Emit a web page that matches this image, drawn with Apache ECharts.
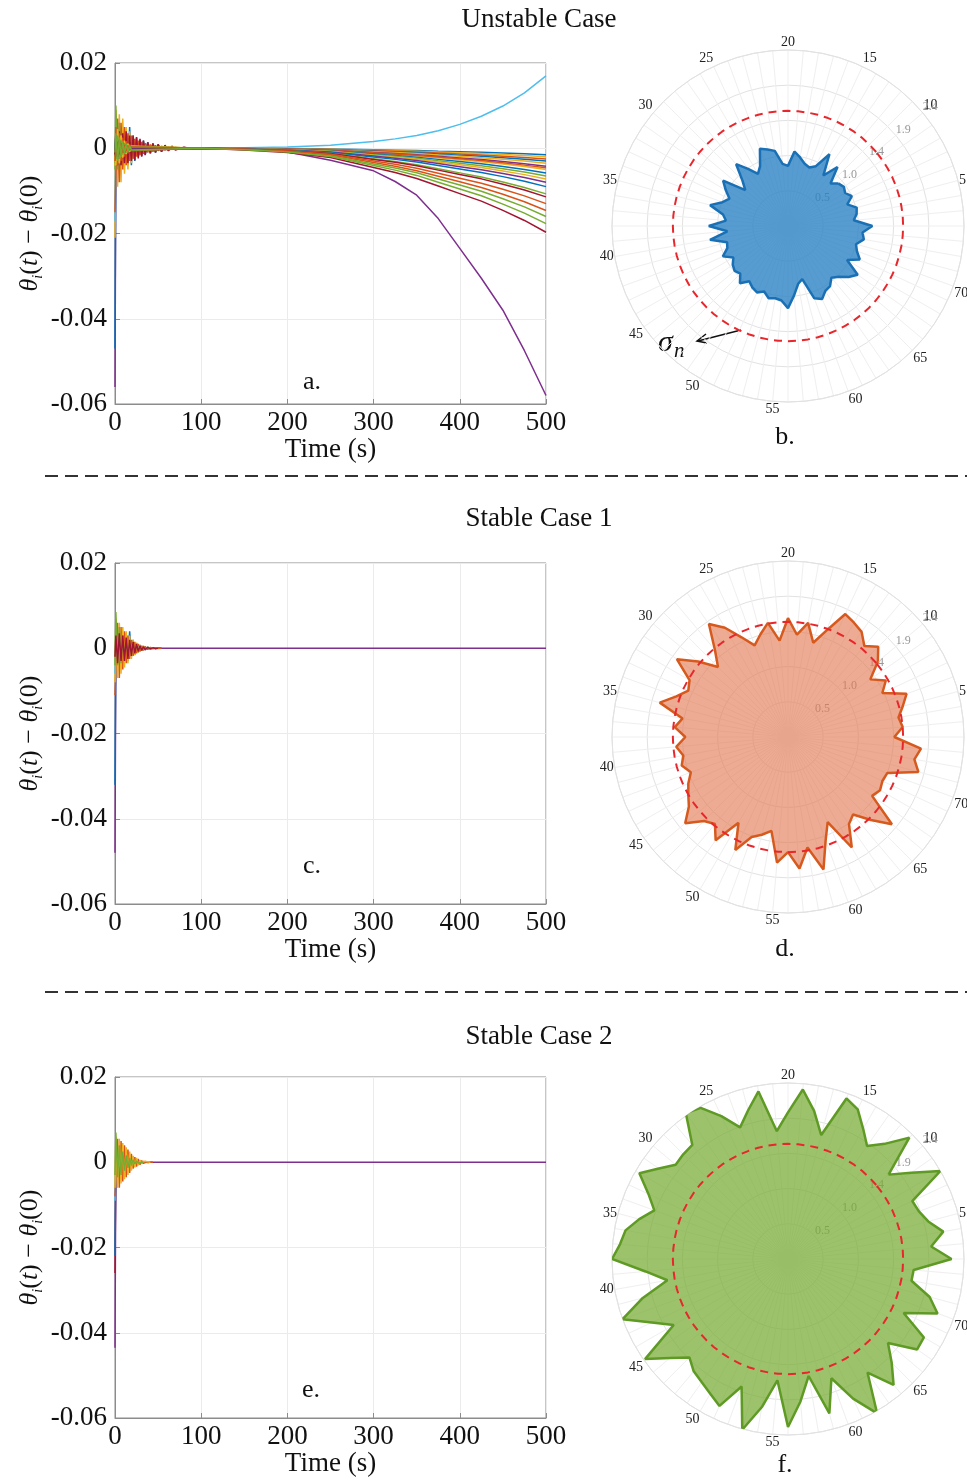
<!DOCTYPE html>
<html>
<head>
<meta charset="utf-8">
<script src="https://cdn.jsdelivr.net/npm/echarts/dist/echarts.min.js"></script>
<style>
  html, body { margin: 0; padding: 0; background: #fff; }
  #main { width: 967px; height: 1480px; }
</style>
</head>
<body>
<div id="main"></div>
<script>
  // ---- time samples (s) ----
  const timeEarly = [0, 1, 3, 5, 7, 9, 11, 13, 15, 17, 19, 21, 23, 25, 27, 29, 31, 33, 35, 38, 41, 44, 47, 50, 54, 58, 62, 66, 70, 80, 90, 100]
  const timeLate = [150, 200, 250, 300, 325, 350, 375, 400, 425, 450, 475, 500]
  const settleT = 100
  const endT = 500

  // ---- panel a (unstable), values x1e-3 ----
  const colorsA = ['#7E2F8E', '#0072BD', '#EDB120', '#4DBEEE', '#D95319', '#77AC30', '#A2142F']
  const earlyA = [
    [-56, 1, -1.5, 2, -2, 1.5, -1.5, 1.5, -1, 1, -1, 0.8, -0.8, 0.6, -0.6, 0.5, -0.5, 0.4, -0.3, 0.3, -0.2, 0.2, -0.15, 0.1, -0.1, 0.05, 0, 0, 0, 0, 0, 0],
    [-47, 2, -3, 3, -2, 3, -3, 4, -4, 5, -4, 3, -3, 2.5, -2, 2, -1.8, 1.8, -1.5, 1.4, -1.2, 1.1, -1, 0.9, -0.8, 0.6, -0.5, 0.4, -0.3, 0.2, -0.1, 0],
    [-21, 9, -9, 8, -8, 7, -6, 5, -5, 4, -3.5, 3, -2.5, 2, -2, 1.6, -1.4, 1.2, -1, 0.9, -0.8, 0.7, -0.6, 0.5, -0.4, 0.3, -0.25, 0.2, -0.1, 0.05, 0, 0],
    [-17, 1, -2, 2, -1.5, 1.5, -1.2, 1, -1, 0.8, -0.8, 0.6, -0.5, 0.5, -0.4, 0.3, -0.3, 0.2, -0.2, 0.15, -0.1, 0.1, 0, 0, 0, 0, 0, 0, 0, 0, 0, 0],
    [-15, -6, 7, -8, 6, -5, 5, -4, 3.5, -3, 3, -2.5, 2.2, -2, 1.8, -1.6, 1.5, -1.3, 1.2, -1, 0.9, -0.8, 0.7, -0.6, 0.5, -0.4, 0.3, -0.25, 0.2, -0.1, 0.05, 0],
    [-5, 10, -5, 6, -4, 3, -3, 2.5, -2, 2, -1.5, 1.2, -1, 0.8, -0.7, 0.6, -0.5, 0.4, -0.3, 0.25, -0.2, 0.15, -0.1, 0.1, 0, 0, 0, 0, 0, 0, 0, 0],
    [-3, 3, -4, 4, -4, 3.5, -3.5, 4, -3.5, 3, -3, 3, -2.8, 2.6, -2.4, 2.2, -2, 1.8, -1.6, 1.4, -1.2, 1.1, -1, 0.9, -0.8, 0.7, -0.6, 0.5, -0.4, 0.25, -0.1, 0]
  ]
  const lateA = [
    [-0.2, -0.9, -2.8, -5.3, -7.8, -11, -16.5, -23.5, -30.5, -38, -47.5, -58],
    [-0.03, -0.08, -0.17, -0.35, -0.44, -0.54, -0.68, -0.81, -0.95, -1.11, -1.29, -1.5],
    [-0.1, -0.25, -0.55, -1.15, -1.45, -1.8, -2.25, -2.7, -3.15, -3.7, -4.3, -5.0],
    [0.1, 0.3, 0.7, 1.6, 2.2, 3.0, 4.1, 5.6, 7.5, 9.9, 13, 17],
    [-0.29, -0.73, -1.6, -3.36, -4.23, -5.26, -6.57, -7.88, -9.2, -10.8, -12.56, -14.6],
    [-0.32, -0.8, -1.76, -3.68, -4.64, -5.76, -7.2, -8.64, -10.08, -11.84, -13.76, -16.0],
    [-0.39, -0.99, -2.17, -4.53, -5.71, -7.09, -8.87, -10.64, -12.41, -14.58, -16.94, -19.7]
  ]
  const fanColorsA = ['#EDB120', '#D95319', '#0072BD', '#EDB120', '#7E2F8E', '#D95319', '#0072BD', '#77AC30', '#EDB120', '#7E2F8E', '#0072BD', '#77AC30', '#A2142F', '#D95319', '#77AC30']
  const fanEarlyA = [
    [-3, 2, -2.5, 2, -2, 1.5, -1.2, 1, -0.8, 0.6, -0.4],
    [-1, -2, 3, -2.5, 2, -1.5, 1.2, -1, 0.8, -0.6, 0.4],
    [-2, 4, -3, 3, -2, 2, -1.5, 1.2, -1, 0.7, -0.5],
    [-4, -3, 4, -3.5, 3, -2, 1.5, -1.2, 1, -0.7, 0.4],
    [-1.5, 1.5, -2, 1.5, -1, 1, -0.8, 0.6, -0.5, 0.4, -0.3],
    [-2.5, 5, -4, 3.5, -3, 2.5, -2, 1.6, -1.2, 0.9, -0.6],
    [-1, -1.5, 2, -2, 1.5, -1, 0.8, -0.7, 0.6, -0.4, 0.3],
    [-3.5, 2.5, -3, 2.5, -2, 1.5, -1.2, 1, -0.8, 0.6, -0.4],
    [-2, -4, 4.5, -3.5, 3, -2.2, 1.8, -1.4, 1.1, -0.8, 0.5],
    [-1, 1, -1.5, 1.2, -1, 0.8, -0.6, 0.5, -0.4, 0.3, -0.2],
    [-0.5, 3, -2.5, 2, -1.8, 1.4, -1.1, 0.9, -0.7, 0.5, -0.3],
    [-2, -2.5, 3, -2.5, 2, -1.5, 1.2, -1, 0.8, -0.6, 0.4],
    [-1.5, 2, -2, 1.8, -1.5, 1.2, -1, 0.8, -0.6, 0.4, -0.3],
    [-3, -1, 1.5, -1.5, 1.2, -1, 0.8, -0.6, 0.5, -0.4, 0.3],
    [-1, 3.5, -3, 2.5, -2, 1.5, -1.2, 1, -0.8, 0.6, -0.4]
  ]
  const fanLateA = [
    [-0.04, -0.1, -0.22, -0.46, -0.58, -0.72, -0.9, -1.08, -1.26, -1.48, -1.72, -2.0],
    [-0.05, -0.13, -0.28, -0.58, -0.73, -0.9, -1.13, -1.35, -1.58, -1.85, -2.15, -2.5],
    [-0.06, -0.15, -0.33, -0.69, -0.87, -1.08, -1.35, -1.62, -1.89, -2.22, -2.58, -3.0],
    [-0.07, -0.18, -0.39, -0.8, -1.02, -1.26, -1.58, -1.89, -2.2, -2.59, -3.01, -3.5],
    [-0.08, -0.21, -0.46, -0.97, -1.22, -1.51, -1.89, -2.27, -2.65, -3.11, -3.61, -4.2],
    [-0.09, -0.23, -0.51, -1.06, -1.33, -1.66, -2.07, -2.48, -2.9, -3.4, -3.96, -4.6],
    [-0.12, -0.29, -0.64, -1.33, -1.68, -2.09, -2.61, -3.13, -3.65, -4.29, -4.99, -5.8],
    [-0.13, -0.33, -0.72, -1.5, -1.89, -2.34, -2.93, -3.51, -4.1, -4.81, -5.59, -6.5],
    [-0.14, -0.36, -0.79, -1.66, -2.09, -2.59, -3.24, -3.89, -4.54, -5.33, -6.19, -7.2],
    [-0.16, -0.4, -0.88, -1.84, -2.32, -2.88, -3.6, -4.32, -5.04, -5.92, -6.88, -8.0],
    [-0.18, -0.45, -0.99, -2.07, -2.61, -3.24, -4.05, -4.86, -5.67, -6.66, -7.74, -9.0],
    [-0.21, -0.54, -1.18, -2.46, -3.1, -3.85, -4.82, -5.78, -6.74, -7.92, -9.2, -10.7],
    [-0.23, -0.57, -1.25, -2.62, -3.31, -4.1, -5.13, -6.16, -7.18, -8.44, -9.8, -11.4],
    [-0.26, -0.65, -1.43, -2.99, -3.77, -4.68, -5.85, -7.02, -8.19, -9.62, -11.18, -13.0],
    [-0.35, -0.89, -1.95, -4.07, -5.13, -6.37, -7.97, -9.56, -11.15, -13.1, -15.22, -17.7]
  ]

  // ---- panel c (stable 1), values x1e-3 ----
  const colorsC = ['#7E2F8E', '#0072BD', '#D95319', '#EDB120', '#4DBEEE', '#77AC30', '#A2142F']
  const earlyC = [
    [-48, 1, -1.5, 1.5, -1.2, 1.2, -1, 1, -0.8, 0.8, -0.6, 0.5, -0.5, 0.4, -0.3, 0.3, -0.2, 0.15, -0.1, 0.1, -0.05, 0],
    [-32, 2, -2, 2.5, -2.5, 3, -3, 3.5, -3, 4, -2, 2, -1.5, 1.2, -1, 0.8, -0.6, 0.5, -0.4, 0.3, -0.2, 0.1, -0.1, 0.05, 0],
    [-11, -5, 6, -7, 5, -5, 4, -3.5, 3, -2.5, 2, -1.8, 1.5, -1.2, 1, -0.8, 0.6, -0.5, 0.4, -0.3, 0.2, -0.15, 0.1, -0.05, 0],
    [-8, 7, -7, 6, -6, 5, -4.5, 4, -3.5, 3, -2.5, 2, -1.6, 1.3, -1, 0.8, -0.6, 0.5, -0.35, 0.25, -0.2, 0.1, -0.05, 0],
    [-6, 1, -1.5, 1.5, -1.2, 1, -1, 0.8, -0.7, 0.6, -0.5, 0.4, -0.3, 0.25, -0.2, 0.15, -0.1, 0.05, 0],
    [-4, 8.5, -4, 5, -3.5, 3, -2.5, 2, -1.6, 1.3, -1, 0.8, -0.6, 0.5, -0.4, 0.3, -0.2, 0.15, -0.1, 0.05, 0],
    [-2, 3, -3.5, 3.5, -3, 3, -3, 2.5, -2.5, 2, -1.8, 1.5, -1.2, 1, -0.8, 0.6, -0.5, 0.4, -0.3, 0.2, -0.15, 0.1, -0.05, 0]
  ]

  // ---- panel e (stable 2), values x1e-3 ----
  const colorsE = ['#7E2F8E', '#A2142F', '#0072BD', '#4DBEEE', '#D95319', '#EDB120', '#77AC30']
  const earlyE = [
    [-43.5, 0.8, -1, 1, -1, 0.8, -0.8, 0.6, -0.5, 0.4, -0.3, 0.25, -0.2, 0.1, -0.05, 0],
    [-26, 2.5, -3, 3, -2.5, 2.5, -2, 2, -1.5, 1.2, -1, 0.8, -0.6, 0.4, -0.3, 0.2, -0.1, 0.05, 0],
    [-22, 1.5, -2, 2, -2, 2.5, -2, 2, -1.5, 1.2, -1, 0.8, -0.6, 0.5, -0.4, 0.3, -0.2, 0.1, -0.05, 0],
    [-9, 1, -1, 1, -0.8, 0.8, -0.6, 0.5, -0.4, 0.3, -0.2, 0.15, -0.1, 0.05, 0],
    [-8, -4, 5.5, -6, 5, -4.5, 4, -3.5, 3, -2.5, 2, -1.5, 1.2, -1, 0.8, -0.6, 0.4, -0.3, 0.2, -0.1, 0.05, 0],
    [-6, 6, -6, 5.5, -5, 4.5, -4, 3.5, -3, 2.5, -2, 1.5, -1.2, 1, -0.7, 0.5, -0.35, 0.25, -0.15, 0.1, 0],
    [-3, 7, -3.5, 4, -3, 2.5, -2, 1.6, -1.3, 1, -0.8, 0.6, -0.4, 0.3, -0.2, 0.1, -0.05, 0]
  ]

  // ---- polar panels: node 1..72 radius ----
  const polarB = [1.02, 1.15, 0.90, 0.95, 0.97, 0.86, 0.96, 0.90, 0.93, 0.90,
    0.82, 1.05, 0.84, 1.13, 0.90, 0.85, 0.88, 0.95, 1.02, 0.82,
    0.85, 1.04, 1.08, 1.12, 0.90, 0.82, 0.95, 1.10, 0.88, 0.76,
    1.08, 0.98, 0.88, 0.95, 1.10, 0.90, 0.85, 1.08, 0.83, 1.08,
    0.86, 0.88, 0.98, 0.86, 0.92, 0.95, 0.92, 1.02, 0.92, 0.97,
    1.00, 0.95, 1.02, 1.00, 1.02, 1.12, 0.95, 0.80, 0.75, 1.05,
    1.10, 1.02, 1.00, 0.92, 0.98, 1.08, 1.16, 0.93, 1.08, 1.00,
    0.96, 1.05]
  const polarD = [1.82, 1.45, 1.57, 1.53, 1.62, 1.72, 1.42, 1.54, 1.37, 1.60,
    1.74, 1.62, 1.75, 1.80, 1.85, 1.55, 1.33, 1.58, 1.40, 1.62,
    1.32, 1.58, 1.45, 1.33, 1.50, 1.72, 1.88, 1.55, 1.35, 1.60,
    1.85, 1.55, 1.50, 1.62, 1.81, 1.46, 1.55, 1.40, 1.53, 1.45,
    1.50, 1.41, 1.50, 1.57, 1.65, 1.83, 1.62, 1.55, 1.72, 1.35,
    1.70, 1.45, 1.38, 1.30, 1.72, 1.57, 1.80, 1.53, 1.87, 1.50,
    1.28, 1.74, 1.45, 1.38, 1.60, 1.85, 1.40, 1.45, 1.42, 1.44,
    1.84, 1.75]
  const polarF = [1.72, 2.23, 1.96, 2.15, 1.98, 1.90, 1.87, 2.40, 2.05, 1.79,
    2.34, 2.05, 1.88, 2.05, 2.25, 2.33, 1.75, 2.05, 2.32, 2.00,
    1.75, 2.32, 2.10, 1.91, 2.15, 2.38, 2.43, 2.03, 2.02, 2.00,
    2.15, 2.34, 2.10, 1.94, 2.10, 2.25, 2.30, 2.40, 1.95, 1.67,
    2.05, 2.40, 2.05, 1.80, 2.38, 2.10, 1.90, 2.00, 2.05, 2.12,
    2.21, 1.85, 2.41, 2.05, 1.66, 2.29, 1.95, 1.62, 2.18, 1.73,
    2.10, 2.43, 1.89, 2.24, 2.00, 1.78, 2.15, 2.14, 1.74, 2.17,
    2.00, 1.71]
  const sigmaN = 1.57
  const nodeCount = 72
  const firstNode = 10   // node sitting on the radial axis

  const serif = 'Liberation Serif'
  const gridTops = [63, 563, 1077]
  const polarCenters = [[788, 226], [788, 737], [788, 1259]]

  const toPts = (times, vals) => vals.map((v, i) => [times[i], v * 1e-3])

  function lineSeries(gi, color, data) {
    return {
      type: 'line', xAxisIndex: gi, yAxisIndex: gi, data: data,
      symbol: 'none', silent: true, clip: true,
      lineStyle: { width: 1.5, color: color }, itemStyle: { color: color }
    }
  }

  let series = []
  earlyA.forEach((row, j) => {
    series.push(lineSeries(0, colorsA[j], toPts(timeEarly, row).concat(toPts(timeLate, lateA[j]))))
  })
  fanEarlyA.forEach((row, j) => {
    const pts = toPts(timeEarly, row).concat([[settleT, 0]]).concat(toPts(timeLate, fanLateA[j]))
    series.push(lineSeries(0, fanColorsA[j], pts))
  })
  // stable panels: the purple node (drawn first) carries the settled line to the end
  earlyC.forEach((row, j) => {
    const pts = toPts(timeEarly, row)
    series.push(lineSeries(1, colorsC[j], j === 0 ? pts.concat([[endT, 0]]) : pts))
  })
  earlyE.forEach((row, j) => {
    const pts = toPts(timeEarly, row)
    series.push(lineSeries(2, colorsE[j], j === 0 ? pts.concat([[endT, 0]]) : pts))
  })

  // angle value v runs firstNode .. firstNode+nodeCount, closing the ring
  function ringData(vals) {
    const out = []
    for (let v = firstNode; v <= firstNode + nodeCount; v++) {
      const n = v > nodeCount ? v - nodeCount : v
      out.push([vals[n - 1], v])
    }
    return out
  }
  const sigmaRing = polarB.map(() => sigmaN)

  const polarStyles = [
    { vals: polarB, line: '#1a70b5', fill: 'rgba(38,128,196,0.78)' },
    { vals: polarD, line: '#d65a1e', fill: 'rgba(228,120,80,0.62)' },
    { vals: polarF, line: '#5e9a24', fill: 'rgba(118,170,50,0.72)' }
  ]
  polarStyles.forEach((p, i) => {
    series.push({
      type: 'line', coordinateSystem: 'polar', polarIndex: i, data: ringData(p.vals),
      symbol: 'none', silent: true, clip: false, z: 3,
      lineStyle: { color: p.line, width: 2.5 },
      areaStyle: { color: p.fill, opacity: 1 }
    })
    series.push({
      type: 'line', coordinateSystem: 'polar', polarIndex: i, data: ringData(sigmaRing),
      symbol: 'none', silent: true, clip: false, z: 4,
      lineStyle: { color: '#e8262b', width: 2, type: [8, 6] }
    })
  })

  const yName = '{t|θ}{s|i}{n|(}{t|t}{n|) − }{t|θ}{s|i}{n|(0)}'

  const option = {
    animation: false,
    backgroundColor: '#fff',
    title: [
      ['Unstable Case', 1], ['Stable Case 1', 500], ['Stable Case 2', 1018]
    ].map(([text, top]) => ({
      text: text, left: 534, top: top, textAlign: 'center',
      textStyle: { fontFamily: serif, fontSize: 27, fontWeight: 'normal', color: '#111' }
    })),
    grid: gridTops.map(top => ({
      left: 115, top: top, width: 431, height: 341,
      show: true, borderColor: '#8c8c8c', borderWidth: 1, backgroundColor: 'transparent'
    })),
    xAxis: gridTops.map((t, i) => ({
      gridIndex: i, type: 'value', min: 0, max: 500, interval: 100,
      name: 'Time (s)', nameLocation: 'middle', nameGap: 32,
      nameTextStyle: { fontFamily: serif, fontSize: 27, color: '#111' },
      axisLine: { show: true, onZero: false, lineStyle: { color: '#8c8c8c' } },
      axisTick: { inside: true, length: 5, lineStyle: { color: '#8c8c8c' } },
      axisLabel: { fontFamily: serif, fontSize: 27, color: '#111', margin: 5 },
      splitLine: { show: true, lineStyle: { color: '#ebebeb' } }
    })),
    yAxis: gridTops.map((t, i) => ({
      gridIndex: i, type: 'value', min: -0.06, max: 0.02, interval: 0.02,
      name: yName, nameLocation: 'middle', nameGap: 70, nameRotate: 90,
      nameTextStyle: {
        fontFamily: serif, fontSize: 26, color: '#111',
        rich: {
          t: { fontFamily: serif, fontSize: 26, fontStyle: 'italic', color: '#111', lineHeight: 30 },
          n: { fontFamily: serif, fontSize: 26, color: '#111', lineHeight: 30 },
          s: { fontFamily: serif, fontSize: 14, fontStyle: 'italic', color: '#111', lineHeight: 30, verticalAlign: 'bottom', padding: [10, 0, 0, 0] }
        }
      },
      axisLine: { show: true, onZero: false, lineStyle: { color: '#8c8c8c' } },
      axisTick: { inside: true, length: 5, lineStyle: { color: '#8c8c8c' } },
      axisLabel: {
        fontFamily: serif, fontSize: 27, color: '#111', margin: 8,
        formatter: v => Math.abs(v) < 1e-9 ? '0' : v.toFixed(2)
      },
      splitLine: { show: true, lineStyle: { color: '#ebebeb' } }
    })),
    polar: polarCenters.map(c => ({ center: c, radius: 176 })),
    angleAxis: polarCenters.map((c, i) => ({
      polarIndex: i, type: 'value', min: firstNode, max: firstNode + nodeCount, interval: 1,
      startAngle: 40, clockwise: false,
      axisLine: { lineStyle: { color: '#e2e2e2' } },
      axisTick: { show: false },
      splitLine: { lineStyle: { color: '#efefef' } },
      axisLabel: {
        fontFamily: serif, fontSize: 14, color: '#222', margin: 1,
        formatter: v => {
          const n = v > nodeCount ? v - nodeCount : v
          return (n % 5 === 0 && v < firstNode + nodeCount) ? String(n) : ''
        }
      }
    })),
    radiusAxis: polarCenters.map((c, i) => ({
      polarIndex: i, type: 'value', min: 0, max: 2.4, interval: 0.48,
      axisLine: { show: false }, axisTick: { show: false },
      splitLine: { lineStyle: { color: '#e2e2e2' } },
      axisLabel: {
        fontFamily: serif, fontSize: 12, color: '#999', margin: 0,
        align: 'left', verticalAlign: 'bottom',
        formatter: v => v === 0 ? '' : v.toFixed(1)
      }
    })),
    series: series,
    graphic: [
      { type: 'line', shape: { x1: 45, y1: 476, x2: 967, y2: 476 }, style: { stroke: '#333', lineWidth: 2, lineDash: [13, 7] } },
      { type: 'line', shape: { x1: 45, y1: 992, x2: 967, y2: 992 }, style: { stroke: '#333', lineWidth: 2, lineDash: [13, 7] } },
      ...[['a.', 312, 382], ['c.', 312, 866], ['e.', 311, 1390], ['b.', 785, 437], ['d.', 785, 949], ['f.', 785, 1465]].map(([t, x, y]) => ({
        type: 'text', x: x, y: y, silent: true,
        style: { text: t, fontFamily: serif, fontSize: 26, fill: '#111', align: 'center', verticalAlign: 'middle' }
      })),
      { type: 'text', x: 658, y: 358, style: { text: 'σ', fontFamily: serif, fontSize: 30, fontStyle: 'italic', fill: '#111', align: 'left', verticalAlign: 'bottom' } },
      { type: 'text', x: 674, y: 362, style: { text: 'n', fontFamily: serif, fontSize: 21, fontStyle: 'italic', fill: '#111', align: 'left', verticalAlign: 'bottom' } },
      { type: 'line', shape: { x1: 741, y1: 330, x2: 698, y2: 341 }, style: { stroke: '#111', lineWidth: 1.5 } },
      { type: 'polyline', shape: { points: [[706, 334], [697, 341], [707, 343]] }, style: { stroke: '#111', lineWidth: 1.5, fill: null } }
    ]
  }

  const chart = echarts.init(document.getElementById('main'), null, { renderer: 'canvas' })
  chart.setOption(option)
</script>
</body>
</html>
